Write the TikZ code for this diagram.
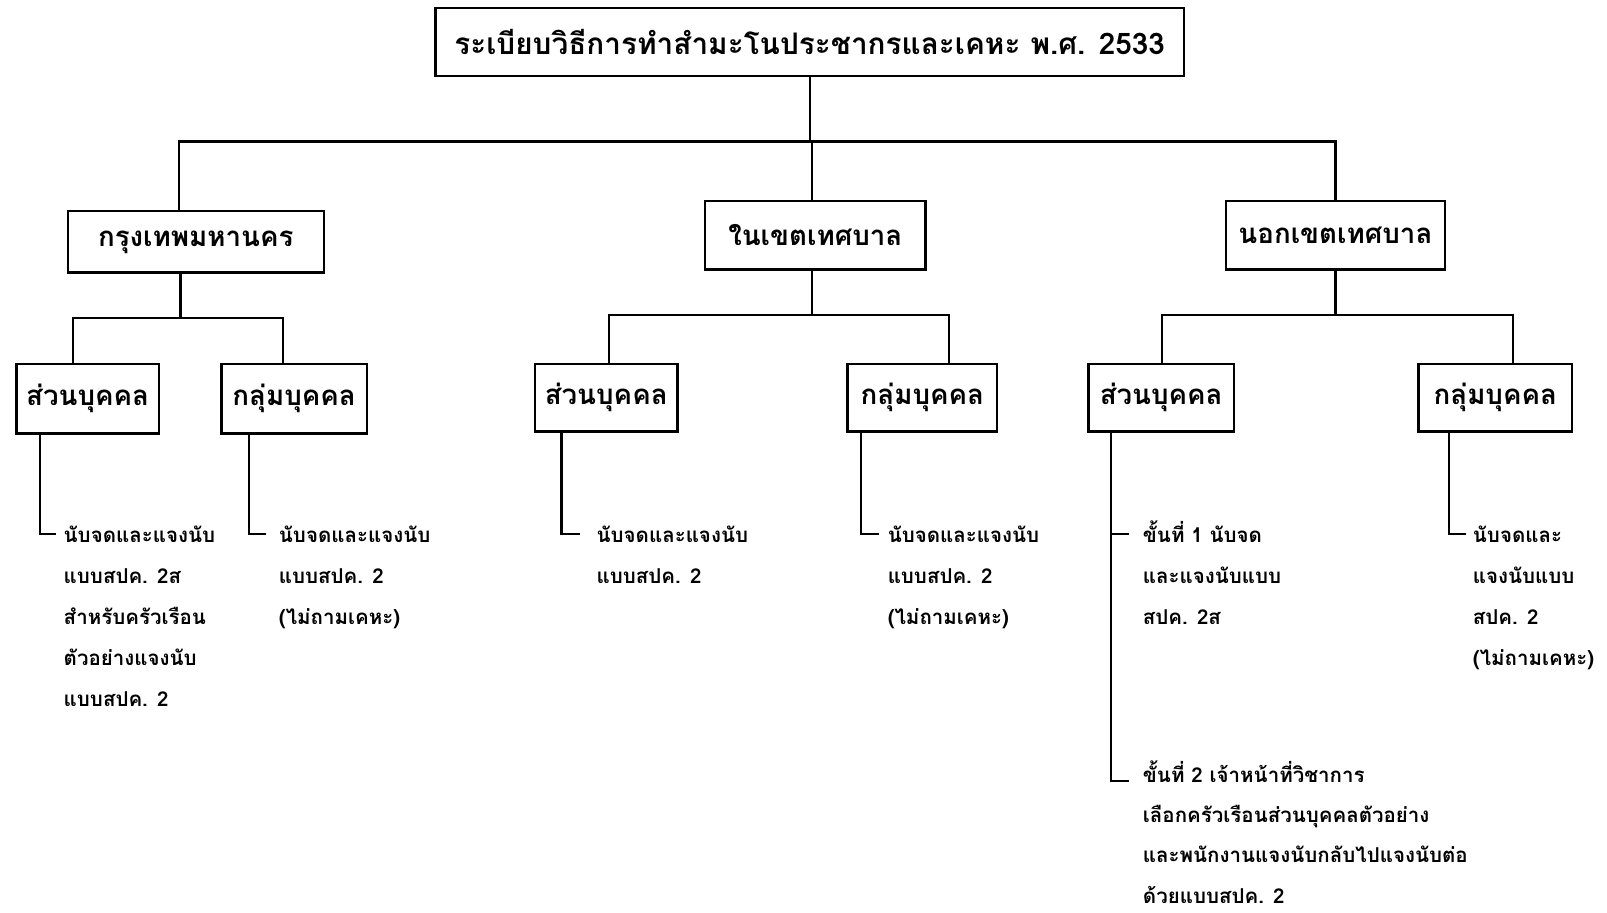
\documentclass[tikz,border=0pt]{standalone}
\usepackage{fontspec}
\newfontfamily\thai[Script=Thai]{Loma}
\newcommand{\firstln}{\rule{0pt}{30pt}}
\begin{document}
\begin{tikzpicture}[x=1pt,y=-1pt,
  box/.style={draw,line width=2.2pt,inner sep=0pt,font=\thai\bfseries\fontsize{27}{32}\selectfont},
  leaf/.style={anchor=north west,align=left,inner sep=0pt,font=\thai\bfseries\fontsize{20}{40}\selectfont},
  con/.style={line width=2.2pt}]
\useasboundingbox (0,0) rectangle (1568,890);
% boxes
\node[box,minimum width=730,minimum height=66,font=\thai\bfseries\fontsize{29}{34}\selectfont] (title) at (790,41) {ระเบียบวิธีการทำสำมะโนประชากรและเคหะ พ.ศ. 2533};
\node[box,minimum width=250,minimum height=60] (bkk) at (191,236) {กรุงเทพมหานคร};
\node[box,minimum width=215,minimum height=67] (mun) at (795.5,229.5) {ในเขตเทศบาล};
\node[box,minimum width=214,minimum height=67] (rur) at (1303,229.5) {นอกเขตเทศบาล};
\node[box,minimum width=139,minimum height=68] (bs) at (85.5,389) {ส่วนบุคคล};
\node[box,minimum width=142,minimum height=68] (bg) at (287,389) {กลุ่มบุคคล};
\node[box,minimum width=139,minimum height=66] (ms) at (591.5,388) {ส่วนบุคคล};
\node[box,minimum width=146,minimum height=66] (mg) at (900,388) {กลุ่มบุคคล};
\node[box,minimum width=142,minimum height=66] (rs) at (1133,388) {ส่วนบุคคล};
\node[box,minimum width=150,minimum height=66] (rg) at (1459,388) {กลุ่มบุคคล};
% level 1 connectors
\coordinate (jt) at (790,138);
\draw[con] (title.south) -- (jt);
\draw[con] ([xshift=-16pt]bkk.north) |- (jt) -| (rur.north);
\draw[con] ([xshift=-3.5pt]mun.north) -- ([xshift=-3.5pt]mun.north |- jt);
% level 2 connectors
\coordinate (j1) at (176,310);
\draw[con] ([xshift=-15pt]bkk.south) -- (j1);
\draw[con] ([xshift=-14.5pt]bs.north) |- (j1) -| ([xshift=-11pt]bg.north);
\coordinate (j2) at (792,307);
\draw[con] ([xshift=-3.5pt]mun.south) -- (j2);
\draw[con] ([xshift=2.5pt]ms.north) |- (j2) -| ([xshift=26pt]mg.north);
\coordinate (j3) at (1303,307);
\draw[con] (rur.south) -- (j3);
\draw[con] ([xshift=1pt]rs.north) |- (j3) -| ([xshift=17pt]rg.north);
% leaf hooks
\coordinate (h1) at (55,521);
\coordinate (h2) at (260,521);
\coordinate (h3) at (566,521);
\coordinate (h4) at (858,521);
\coordinate (h5) at (1102,521);
\coordinate (h6) at (1102,762);
\coordinate (h7) at (1430,521);
\draw[con] ([xshift=24pt]bs.south west) |- (h1);
\draw[con] ([xshift=28pt]bg.south west) |- (h2);
\draw[con] ([xshift=27pt]ms.south west) |- (h3);
\draw[con] ([xshift=14pt]mg.south west) |- (h4);
\draw[con] ([xshift=23pt]rs.south west) |- (h5);
\draw[con] ([xshift=23pt]rs.south west) |- (h6);
\draw[con] ([xshift=31pt]rg.south west) |- (h7);
% leaf texts (first baseline = hook y + 8)
\node[leaf] (t1) at (62,499) {\firstln นับจดและแจงนับ\\แบบสปค. 2ส\\สำหรับครัวเรือน\\ตัวอย่างแจงนับ\\แบบสปค. 2};
\node[leaf] (t2) at (272,499) {\firstln นับจดและแจงนับ\\แบบสปค. 2\\(ไม่ถามเคหะ)};
\node[leaf] (t3) at (582,499) {\firstln นับจดและแจงนับ\\แบบสปค. 2};
\node[leaf] (t4) at (866,499) {\firstln นับจดและแจงนับ\\แบบสปค. 2\\(ไม่ถามเคหะ)};
\node[leaf] (t5) at (1115,499) {\firstln ขั้นที่ 1 นับจด\\และแจงนับแบบ\\สปค. 2ส};
\node[leaf,font=\thai\bfseries\fontsize{20}{39.3}\selectfont] (t6) at (1115,733) {\firstln ขั้นที่ 2 เจ้าหน้าที่วิชาการ\\เลือกครัวเรือนส่วนบุคคลตัวอย่าง\\และพนักงานแจงนับกลับไปแจงนับต่อ\\ด้วยแบบสปค. 2};
\node[leaf] (t7) at (1437,499) {\firstln นับจดและ\\แจงนับแบบ\\สปค. 2\\(ไม่ถามเคหะ)};
\end{tikzpicture}
\end{document}
